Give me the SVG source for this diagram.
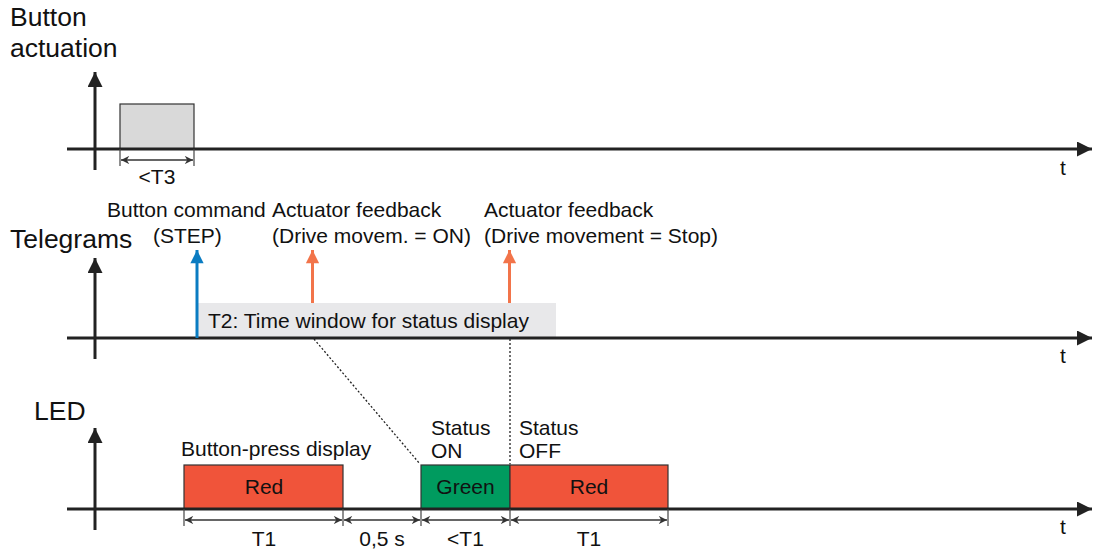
<svg xmlns="http://www.w3.org/2000/svg" width="1093" height="549" viewBox="0 0 1093 549">
<style>
text{font-family:"Liberation Sans",Arial,sans-serif;fill:#111}
.big{font-size:26.5px}
.lbl{font-size:21px}
.ax{stroke:#222;stroke-width:3;fill:none}
.dim{stroke:#333;stroke-width:1.5;fill:none}
.tick{stroke:#444;stroke-width:1.2}
.dot{stroke:#222;stroke-width:1.3;stroke-dasharray:2 2;fill:none}
</style>
<defs>
<marker id="axh" viewBox="0 0 10 10" refX="10" refY="5" markerWidth="6.5" markerHeight="5" markerUnits="strokeWidth" orient="auto"><path d="M0,0 L10,5 L0,10 Z" fill="#222"/></marker>
<marker id="dm" viewBox="0 0 10 10" refX="10" refY="5" markerWidth="6.5" markerHeight="5.5" markerUnits="strokeWidth" orient="auto-start-reverse"><path d="M0,0 L10,5 L0,10 L3,5 Z" fill="#333"/></marker>
<marker id="bl" viewBox="0 0 10 10" refX="10" refY="5" markerWidth="4.6" markerHeight="4.4" markerUnits="strokeWidth" orient="auto"><path d="M0,0 L10,5 L0,10 Z" fill="#0a7cc2"/></marker>
<marker id="or" viewBox="0 0 10 10" refX="10" refY="5" markerWidth="4.6" markerHeight="4.4" markerUnits="strokeWidth" orient="auto"><path d="M0,0 L10,5 L0,10 Z" fill="#f2744a"/></marker>
</defs>

<g id="labels">
<text class="big" x="10" y="26">Button</text>
<text class="big" x="10" y="57">actuation</text>
<text class="big" x="10" y="248">Telegrams</text>
<text class="big" x="34" y="420">LED</text>
</g>

<g id="band">
<rect x="198" y="303" width="358" height="34" fill="#e8e8ea"/>
<text class="lbl" x="208" y="328">T2: Time window for status display</text>
</g>

<g id="button-pulse">
<rect x="120" y="104" width="74" height="45" fill="#d9d9d9" stroke="#333" stroke-width="1.2"/>
</g>

<g id="led-red1">
<rect x="184" y="465" width="159" height="44" fill="#f0543a" stroke="#333" stroke-width="1.2"/>
<text class="lbl" x="264" y="494" text-anchor="middle">Red</text>
</g>
<g id="led-green">
<rect x="421" y="465" width="89" height="44" fill="#009b5f" stroke="#333" stroke-width="1.2"/>
<text class="lbl" x="465.5" y="494" text-anchor="middle">Green</text>
</g>
<g id="led-red2">
<rect x="510" y="465" width="158" height="44" fill="#f0543a" stroke="#333" stroke-width="1.2"/>
<text class="lbl" x="589" y="494" text-anchor="middle">Red</text>
</g>

<g id="connectors">
<line class="ax" x1="67" y1="149" x2="1092" y2="149" marker-end="url(#axh)"/>
<line class="ax" x1="95" y1="170" x2="95" y2="72" marker-end="url(#axh)"/>
<line class="ax" x1="67" y1="338" x2="1092" y2="338" marker-end="url(#axh)"/>
<line class="ax" x1="95" y1="359" x2="95" y2="258" marker-end="url(#axh)"/>
<line class="ax" x1="67" y1="509" x2="1092" y2="509" marker-end="url(#axh)"/>
<line class="ax" x1="95" y1="530" x2="95" y2="428" marker-end="url(#axh)"/>
<line x1="197" y1="338" x2="197" y2="250" stroke="#0a7cc2" stroke-width="3" marker-end="url(#bl)"/>
<line x1="312.5" y1="303" x2="312.5" y2="250" stroke="#f2744a" stroke-width="3" marker-end="url(#or)"/>
<line x1="509.5" y1="303" x2="509.5" y2="250" stroke="#f2744a" stroke-width="3" marker-end="url(#or)"/>
<line class="dot" x1="314" y1="339" x2="420" y2="464"/>
<line class="dot" x1="510" y1="339" x2="510" y2="464"/>
<line class="tick" x1="120" y1="149" x2="120" y2="166"/>
<line class="tick" x1="194" y1="149" x2="194" y2="166"/>
<line class="dim" x1="121" y1="160" x2="193" y2="160" marker-start="url(#dm)" marker-end="url(#dm)"/>
<line class="tick" x1="184" y1="509" x2="184" y2="526"/>
<line class="tick" x1="343" y1="509" x2="343" y2="526"/>
<line class="tick" x1="421" y1="509" x2="421" y2="526"/>
<line class="tick" x1="510" y1="509" x2="510" y2="526"/>
<line class="tick" x1="668" y1="509" x2="668" y2="526"/>
<line class="dim" x1="185" y1="520" x2="342" y2="520" marker-start="url(#dm)" marker-end="url(#dm)"/>
<line class="dim" x1="344" y1="520" x2="420" y2="520" marker-start="url(#dm)" marker-end="url(#dm)"/>
<line class="dim" x1="422" y1="520" x2="509" y2="520" marker-start="url(#dm)" marker-end="url(#dm)"/>
<line class="dim" x1="511" y1="520" x2="667" y2="520" marker-start="url(#dm)" marker-end="url(#dm)"/>
</g>

<g id="texts">
<text class="lbl" x="157" y="184" text-anchor="middle">&lt;T3</text>
<text class="lbl" x="1063" y="175" text-anchor="middle">t</text>
<text class="lbl" x="1063" y="363" text-anchor="middle">t</text>
<text class="lbl" x="1063" y="534" text-anchor="middle">t</text>
<text class="lbl" x="107" y="217">Button command</text>
<text class="lbl" x="153" y="243">(STEP)</text>
<text class="lbl" x="272" y="217">Actuator feedback</text>
<text class="lbl" x="272" y="243">(Drive movem. = ON)</text>
<text class="lbl" x="484" y="217">Actuator feedback</text>
<text class="lbl" x="484" y="243">(Drive movement = Stop)</text>
<text class="lbl" x="181" y="456">Button-press display</text>
<text class="lbl" x="431" y="435">Status</text>
<text class="lbl" x="431" y="458">ON</text>
<text class="lbl" x="519" y="435">Status</text>
<text class="lbl" x="519" y="458">OFF</text>
<text class="lbl" x="264" y="546" text-anchor="middle">T1</text>
<text class="lbl" x="382" y="546" text-anchor="middle">0,5 s</text>
<text class="lbl" x="465.5" y="546" text-anchor="middle">&lt;T1</text>
<text class="lbl" x="589" y="546" text-anchor="middle">T1</text>
</g>
</svg>
